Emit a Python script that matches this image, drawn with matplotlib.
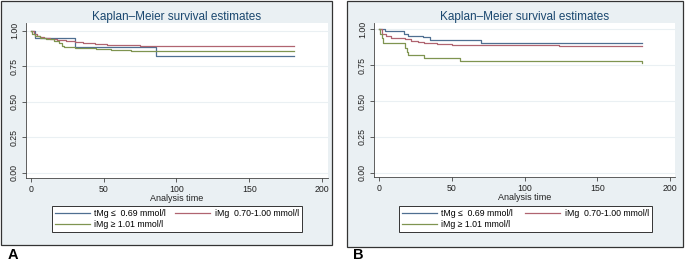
import matplotlib.pyplot as plt
from matplotlib.patches import Rectangle
from matplotlib.lines import Line2D

plt.rcParams["font.family"] = ["Liberation Sans", "DejaVu Sans"]

labels = ["tMg \u2264  0.69 mmol/l", "iMg  0.70-1.00 mmol/l", "iMg \u2265 1.01 mmol/l"]
colors = ["#4f6f91", "#b06470", "#7f9450"]

# panel A (time in days, survival probability)
a_low_t = [0, 3, 30, 86, 181]
a_low_s = [1.0, 0.946, 0.883, 0.824, 0.824]
a_mid_t = [0, 2, 4, 6, 9, 13, 18, 24, 30, 36, 44, 52, 62, 75, 95, 128, 181]
a_mid_s = [1.0, 0.98, 0.965, 0.955, 0.945, 0.94, 0.935, 0.925, 0.918, 0.912,
           0.905, 0.90, 0.897, 0.894, 0.892, 0.889, 0.889]
a_high_t = [0, 1, 3, 6, 10, 16, 19, 21, 23, 30, 45, 55, 69, 181]
a_high_s = [1.0, 0.98, 0.96, 0.95, 0.94, 0.93, 0.91, 0.895, 0.885, 0.876,
            0.869, 0.865, 0.859, 0.859]

# panel B
b_low_t = [0, 4, 17, 20, 30, 35, 70, 181]
b_low_s = [1.0, 0.988, 0.967, 0.955, 0.944, 0.925, 0.907, 0.907]
b_mid_t = [0, 2, 5, 8, 18, 22, 27, 31, 40, 50, 70, 93, 124, 181]
b_mid_s = [1.0, 0.967, 0.955, 0.937, 0.93, 0.92, 0.91, 0.902, 0.897, 0.893,
           0.89, 0.888, 0.882, 0.882]
b_high_t = [0, 1, 2, 3, 18, 19, 20, 31, 56, 181]
b_high_s = [1.0, 0.97, 0.94, 0.907, 0.87, 0.845, 0.82, 0.798, 0.779, 0.765]

xticks = [0, 50, 100, 150, 200]
yticks = [0.0, 0.25, 0.5, 0.75, 1.0]

W, H = 685, 262
fig = plt.figure(figsize=(W / 100, H / 100), dpi=100)


def px(x0, y0, x1, y1):
    # pixel box (top-left origin) -> figure fraction rect
    return [x0 / W, 1 - y1 / H, (x1 - x0) / W, (y1 - y0) / H]


def panel(box, plot, leg, xlim, ylim, series, letter, letter_x):
    x0, y0, x1, y1 = box
    fig.patches.append(Rectangle((x0 / W, 1 - y1 / H), (x1 - x0) / W, (y1 - y0) / H,
                                 transform=fig.transFigure, facecolor="#eaf0f3",
                                 edgecolor="#333333", linewidth=0.9, zorder=-10))
    ax = fig.add_axes(px(*plot))
    ax.set_facecolor("white")
    for t, s, c in series:
        ax.step(t, s, where="post", color=c, linewidth=0.9, zorder=3)
    ax.set_xlim(*xlim)
    ax.set_ylim(*ylim)
    ax.set_xticks(xticks)
    ax.set_yticks(yticks)
    ax.set_yticklabels(["%.2f" % v for v in yticks], rotation=90, va="center")
    ax.tick_params(labelsize=6.3, length=3, width=0.6, color="#444444",
                   labelcolor="#222222", pad=2)
    for v in yticks:
        ax.axhline(v, color="#eaf0f3", linewidth=0.8, zorder=1)
    for side in ["top", "right"]:
        ax.spines[side].set_visible(False)
    for side in ["left", "bottom"]:
        ax.spines[side].set_color("#444444")
        ax.spines[side].set_linewidth(0.6)
    ax.set_xlabel("Analysis time", fontsize=6.5, labelpad=0, color="#222222")
    cx = (plot[0] + plot[2]) / 2 / W
    fig.text(cx, 1 - 17 / H, "Kaplan\u2013Meier survival estimates", ha="center",
             va="center", fontsize=8.5, color="#1a476f")

    handles = [Line2D([], [], color=colors[i], linewidth=0.9) for i in (0, 2, 1)]
    names = [labels[i] for i in (0, 2, 1)]
    fig.legend(handles, names, bbox_to_anchor=px(*leg), loc="upper left",
               mode="expand", ncol=2, fontsize=6.3, frameon=True, fancybox=False,
               edgecolor="#333333", framealpha=1, borderpad=0.35, labelspacing=0.25,
               handlelength=4.0, handletextpad=0.5, columnspacing=1.0,
               borderaxespad=0)
    fig.legends[-1].get_frame().set_linewidth(0.7)
    fig.text(letter_x / W, 1 - 255 / H, letter, fontsize=10.5, fontweight="bold",
             ha="left", va="center")
    return ax


panel((1, 1, 332, 245), (26, 23, 328, 178), (52, 206, 302, 233),
      (-3.4, 204.1), (-0.037, 1.054),
      [(a_low_t, a_low_s, colors[0]), (a_mid_t, a_mid_s, colors[1]),
       (a_high_t, a_high_s, colors[2])], "A", 8)
panel((347, 1, 683, 247), (374, 23, 675, 177), (399, 206, 652, 233),
      (-3.4, 203.4), (-0.03, 1.044),
      [(b_low_t, b_low_s, colors[0]), (b_mid_t, b_mid_s, colors[1]),
       (b_high_t, b_high_s, colors[2])], "B", 353)

fig.savefig("out.png", dpi=100)
